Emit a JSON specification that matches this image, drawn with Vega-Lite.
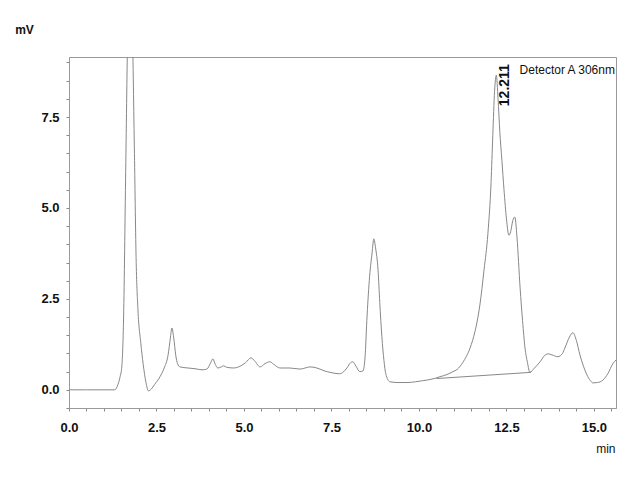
{
  "$schema": "https://vega.github.io/schema/vega-lite/v6.json",
  "width": 547,
  "height": 351,
  "autosize": {"type": "none"},
  "padding": {"left": 69, "top": 57, "right": 24, "bottom": 72},
  "background": "white",
  "config": {
    "view": {"stroke": "#9a9a9a", "strokeWidth": 1},
    "axis": {
      "grid": false,
      "domainColor": "#9a9a9a",
      "tickColor": "#8a8a8a",
      "tickSize": 3,
      "tickCount": 100,
      "labelFont": "Liberation Sans",
      "labelFontSize": 13,
      "labelFontWeight": "bold",
      "labelColor": "#111",
      "titleFont": "Liberation Sans",
      "titleFontSize": 12,
      "titleFontWeight": "bold",
      "titleColor": "#111"
    }
  },
  "datasets": {
    "trace": [
      {"t": 0.0, "mV": 0.0, "series": "signal"},
      {"t": 0.5, "mV": 0.0, "series": "signal"},
      {"t": 1.0, "mV": 0.0, "series": "signal"},
      {"t": 1.31, "mV": 0.0, "series": "signal"},
      {"t": 1.4, "mV": 0.15, "series": "signal"},
      {"t": 1.46, "mV": 0.36, "series": "signal"},
      {"t": 1.51, "mV": 0.65, "series": "signal"},
      {"t": 1.56, "mV": 2.0, "series": "signal"},
      {"t": 1.62, "mV": 6.0, "series": "signal"},
      {"t": 1.68, "mV": 10.0, "series": "signal"},
      {"t": 1.75, "mV": 12.0, "series": "signal"},
      {"t": 1.81, "mV": 10.0, "series": "signal"},
      {"t": 1.87, "mV": 6.5, "series": "signal"},
      {"t": 1.92, "mV": 3.5, "series": "signal"},
      {"t": 1.97, "mV": 2.2, "series": "signal"},
      {"t": 2.05, "mV": 1.3, "series": "signal"},
      {"t": 2.12, "mV": 0.7, "series": "signal"},
      {"t": 2.2, "mV": 0.2, "series": "signal"},
      {"t": 2.27, "mV": -0.03, "series": "signal"},
      {"t": 2.35, "mV": 0.02, "series": "signal"},
      {"t": 2.45, "mV": 0.15, "series": "signal"},
      {"t": 2.6, "mV": 0.36, "series": "signal"},
      {"t": 2.72, "mV": 0.6, "series": "signal"},
      {"t": 2.83, "mV": 0.95, "series": "signal"},
      {"t": 2.9, "mV": 1.45, "series": "signal"},
      {"t": 2.94, "mV": 1.7, "series": "signal"},
      {"t": 2.99, "mV": 1.45, "series": "signal"},
      {"t": 3.05, "mV": 0.95, "series": "signal"},
      {"t": 3.1, "mV": 0.72, "series": "signal"},
      {"t": 3.17, "mV": 0.63, "series": "signal"},
      {"t": 3.4, "mV": 0.6, "series": "signal"},
      {"t": 3.6, "mV": 0.58, "series": "signal"},
      {"t": 3.8, "mV": 0.55, "series": "signal"},
      {"t": 3.94, "mV": 0.57, "series": "signal"},
      {"t": 4.05, "mV": 0.75, "series": "signal"},
      {"t": 4.11, "mV": 0.85, "series": "signal"},
      {"t": 4.18, "mV": 0.7, "series": "signal"},
      {"t": 4.25, "mV": 0.6, "series": "signal"},
      {"t": 4.35, "mV": 0.63, "series": "signal"},
      {"t": 4.42, "mV": 0.66, "series": "signal"},
      {"t": 4.5, "mV": 0.62, "series": "signal"},
      {"t": 4.7, "mV": 0.6, "series": "signal"},
      {"t": 4.89, "mV": 0.65, "series": "signal"},
      {"t": 5.05, "mV": 0.75, "series": "signal"},
      {"t": 5.2, "mV": 0.88, "series": "signal"},
      {"t": 5.3, "mV": 0.8, "series": "signal"},
      {"t": 5.46, "mV": 0.63, "series": "signal"},
      {"t": 5.6, "mV": 0.72, "series": "signal"},
      {"t": 5.74, "mV": 0.77, "series": "signal"},
      {"t": 5.85, "mV": 0.7, "series": "signal"},
      {"t": 6.03, "mV": 0.6, "series": "signal"},
      {"t": 6.31, "mV": 0.6, "series": "signal"},
      {"t": 6.6, "mV": 0.57, "series": "signal"},
      {"t": 6.89, "mV": 0.63, "series": "signal"},
      {"t": 7.0, "mV": 0.62, "series": "signal"},
      {"t": 7.17, "mV": 0.57, "series": "signal"},
      {"t": 7.3, "mV": 0.52, "series": "signal"},
      {"t": 7.46, "mV": 0.48, "series": "signal"},
      {"t": 7.74, "mV": 0.44, "series": "signal"},
      {"t": 7.85, "mV": 0.5, "series": "signal"},
      {"t": 7.94, "mV": 0.6, "series": "signal"},
      {"t": 8.05, "mV": 0.75, "series": "signal"},
      {"t": 8.11, "mV": 0.77, "series": "signal"},
      {"t": 8.2, "mV": 0.65, "series": "signal"},
      {"t": 8.31, "mV": 0.5, "series": "signal"},
      {"t": 8.4, "mV": 0.52, "series": "signal"},
      {"t": 8.46, "mV": 0.9, "series": "signal"},
      {"t": 8.51, "mV": 1.9, "series": "signal"},
      {"t": 8.58, "mV": 3.0, "series": "signal"},
      {"t": 8.66, "mV": 3.76, "series": "signal"},
      {"t": 8.71, "mV": 4.15, "series": "signal"},
      {"t": 8.76, "mV": 3.9, "series": "signal"},
      {"t": 8.83, "mV": 3.3, "series": "signal"},
      {"t": 8.88, "mV": 2.4, "series": "signal"},
      {"t": 8.94, "mV": 1.46, "series": "signal"},
      {"t": 9.0, "mV": 0.8, "series": "signal"},
      {"t": 9.05, "mV": 0.45, "series": "signal"},
      {"t": 9.17, "mV": 0.22, "series": "signal"},
      {"t": 9.4, "mV": 0.2, "series": "signal"},
      {"t": 9.66, "mV": 0.2, "series": "signal"},
      {"t": 9.9, "mV": 0.22, "series": "signal"},
      {"t": 10.1, "mV": 0.25, "series": "signal"},
      {"t": 10.4, "mV": 0.3, "series": "signal"},
      {"t": 10.6, "mV": 0.36, "series": "signal"},
      {"t": 10.8, "mV": 0.42, "series": "signal"},
      {"t": 10.97, "mV": 0.5, "series": "signal"},
      {"t": 11.09, "mV": 0.56, "series": "signal"},
      {"t": 11.25, "mV": 0.75, "series": "signal"},
      {"t": 11.46, "mV": 1.15, "series": "signal"},
      {"t": 11.6, "mV": 1.6, "series": "signal"},
      {"t": 11.74, "mV": 2.33, "series": "signal"},
      {"t": 11.86, "mV": 3.3, "series": "signal"},
      {"t": 11.97, "mV": 4.3, "series": "signal"},
      {"t": 12.06, "mV": 5.7, "series": "signal"},
      {"t": 12.11, "mV": 7.0, "series": "signal"},
      {"t": 12.16, "mV": 8.2, "series": "signal"},
      {"t": 12.21, "mV": 8.65, "series": "signal"},
      {"t": 12.26, "mV": 8.0, "series": "signal"},
      {"t": 12.31, "mV": 7.1, "series": "signal"},
      {"t": 12.37, "mV": 6.3, "series": "signal"},
      {"t": 12.43, "mV": 5.5, "series": "signal"},
      {"t": 12.5, "mV": 4.7, "series": "signal"},
      {"t": 12.57, "mV": 4.25, "series": "signal"},
      {"t": 12.62, "mV": 4.35, "series": "signal"},
      {"t": 12.68, "mV": 4.65, "series": "signal"},
      {"t": 12.74, "mV": 4.75, "series": "signal"},
      {"t": 12.8, "mV": 4.2, "series": "signal"},
      {"t": 12.89, "mV": 2.8, "series": "signal"},
      {"t": 12.96, "mV": 1.9, "series": "signal"},
      {"t": 13.03, "mV": 1.15, "series": "signal"},
      {"t": 13.1, "mV": 0.75, "series": "signal"},
      {"t": 13.17, "mV": 0.48, "series": "signal"},
      {"t": 13.3, "mV": 0.6, "series": "signal"},
      {"t": 13.46, "mV": 0.77, "series": "signal"},
      {"t": 13.6, "mV": 0.95, "series": "signal"},
      {"t": 13.69, "mV": 0.99, "series": "signal"},
      {"t": 13.8, "mV": 0.96, "series": "signal"},
      {"t": 13.97, "mV": 0.91, "series": "signal"},
      {"t": 14.1, "mV": 1.0, "series": "signal"},
      {"t": 14.17, "mV": 1.15, "series": "signal"},
      {"t": 14.3, "mV": 1.45, "series": "signal"},
      {"t": 14.4, "mV": 1.57, "series": "signal"},
      {"t": 14.5, "mV": 1.35, "series": "signal"},
      {"t": 14.6, "mV": 0.96, "series": "signal"},
      {"t": 14.7, "mV": 0.65, "series": "signal"},
      {"t": 14.8, "mV": 0.41, "series": "signal"},
      {"t": 14.9, "mV": 0.25, "series": "signal"},
      {"t": 14.97, "mV": 0.19, "series": "signal"},
      {"t": 15.1, "mV": 0.2, "series": "signal"},
      {"t": 15.26, "mV": 0.27, "series": "signal"},
      {"t": 15.4, "mV": 0.45, "series": "signal"},
      {"t": 15.54, "mV": 0.72, "series": "signal"},
      {"t": 15.63, "mV": 0.82, "series": "signal"},
      {"t": 10.5, "mV": 0.31, "series": "baseline"},
      {"t": 13.2, "mV": 0.48, "series": "baseline"}
    ],
    "peak": [{"t": 12.211, "mV": 8.65, "label": "12.211"}],
    "detector": [{"t": 15.6, "mV": 8.69, "label": "Detector A 306nm"}]
  },
  "layer": [
    {
      "data": {"name": "trace"},
      "mark": {"type": "line", "color": "#888888", "strokeWidth": 1, "clip": true, "interpolate": "monotone"},
      "encoding": {
        "x": {
          "field": "t", "type": "quantitative",
          "scale": {"domain": [0, 15.63], "nice": false, "zero": false},
          "axis": {
            "title": "min",
            "titleFontWeight": "normal",
            "titleAlign": "right",
            "titleBaseline": "alphabetic",
            "titleAnchor": "start",
            "titleX": 546,
            "titleY": 44,
            "values": [0,0.5,1,1.5,2,2.5,3,3.5,4,4.5,5,5.5,6,6.5,7,7.5,8,8.5,9,9.5,10,10.5,11,11.5,12,12.5,13,13.5,14,14.5,15,15.5],
            "labelExpr": "datum.value % 2.5 === 0 ? format(datum.value, '.1f') : ''",
            "labelPadding": 10,
            "labelFlush": false,
            "labelOverlap": false
          }
        },
        "y": {
          "field": "mV", "type": "quantitative",
          "scale": {"domain": [-0.5, 9.15], "nice": false, "zero": false},
          "axis": {
            "title": "mV",
            "titleAngle": 0,
            "titleAlign": "center",
            "titleBaseline": "alphabetic",
            "titleAnchor": "start",
            "titleX": -45,
            "titleY": -24,
            "values": [-0.5,0,0.5,1,1.5,2,2.5,3,3.5,4,4.5,5,5.5,6,6.5,7,7.5,8,8.5,9],
            "labelExpr": "datum.value % 2.5 === 0 ? format(datum.value, '.1f') : ''",
            "labelPadding": 7,
            "labelOverlap": false
          }
        },
        "detail": {"field": "series", "type": "nominal"}
      }
    },
    {
      "data": {"name": "peak"},
      "mark": {"type": "text", "angle": 270, "align": "left", "baseline": "middle", "dx": -31, "dy": 9, "font": "Liberation Sans", "fontSize": 14, "fontWeight": "bold", "color": "#111"},
      "encoding": {
        "x": {"field": "t", "type": "quantitative"},
        "y": {"field": "mV", "type": "quantitative"},
        "text": {"field": "label"}
      }
    },
    {
      "data": {"name": "detector"},
      "mark": {"type": "text", "align": "right", "baseline": "alphabetic", "font": "Liberation Sans", "fontSize": 12, "color": "#111"},
      "encoding": {
        "x": {"field": "t", "type": "quantitative"},
        "y": {"field": "mV", "type": "quantitative"},
        "text": {"field": "label"}
      }
    }
  ]
}
